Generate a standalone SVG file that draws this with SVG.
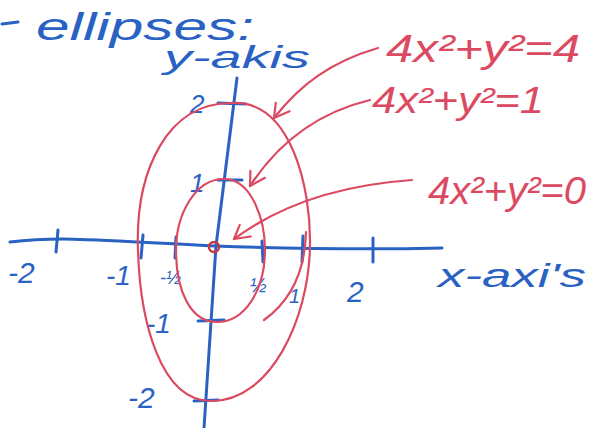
<svg xmlns="http://www.w3.org/2000/svg" width="592" height="428" viewBox="0 0 592 428">
<defs>
<style>
.blue{fill:none;stroke:#2a62c4;stroke-width:3;stroke-linecap:round;stroke-linejoin:round}
.red{fill:none;stroke:#dc4a62;stroke-width:2.2;stroke-linecap:round;stroke-linejoin:round}
.tb{fill:#2a62c4;font-family:"Liberation Sans",Arial,sans-serif;font-style:italic}
.tr{fill:#dc4a62;font-family:"Liberation Sans",Arial,sans-serif;font-style:italic}
</style>
<marker id="vh" viewBox="0 0 20 20" refX="18" refY="10" markerWidth="20" markerHeight="20" markerUnits="userSpaceOnUse" orient="auto">
<path d="M3,2 L18,10 L5,18" fill="none" stroke="#dc4a62" stroke-width="2.2" stroke-linecap="round" stroke-linejoin="round"/>
</marker>
</defs>
<rect width="592" height="428" fill="#ffffff"/>
<g id="title">
<path class="blue" d="M2,24 L18,22"/>
<text class="tb" x="36" y="40" font-size="38" textLength="218" lengthAdjust="spacingAndGlyphs">ellipses:</text>
</g>
<g id="axes">
<path class="blue" d="M10,242 C60,236 100,240 215,246 C330,250 400,249 442,248"/>
<path class="blue" d="M237,78 L216,246 L204,428"/>
<path class="blue" d="M58,230 L56,252 M143,235 L141,258 M176,237 L175,258 M262,241 L263,262 M303,236 L302,262 M373,238 L373,262"/>
<path class="blue" d="M218,103 L246,104 M218,180 L242,180 M198,321 L224,320 M194,401 L218,400"/>
</g>
<g id="y-axis-label"><text class="tb" x="164" y="68" font-size="32" textLength="146" lengthAdjust="spacingAndGlyphs">y-akis</text></g>
<g id="x-axis-label"><text class="tb" x="438" y="287" font-size="34" textLength="148" lengthAdjust="spacingAndGlyphs">x-axi's</text></g>
<g id="tick-labels">
<text class="tb" x="8" y="283" font-size="30">-2</text>
<text class="tb" x="106" y="285" font-size="28">-1</text>
<text class="tb" x="160" y="284" font-size="18">-½</text>
<text class="tb" x="250" y="292" font-size="20">½</text>
<text class="tb" x="347" y="302" font-size="30">2</text>
<text class="tb" x="289" y="303" font-size="20" fill="#333">1</text>
<text class="tb" x="190" y="113" font-size="26">2</text>
<text class="tb" x="190" y="192" font-size="26">1</text>
<text class="tb" x="146" y="333" font-size="28">-1</text>
<text class="tb" x="128" y="408" font-size="30">-2</text>
</g>
<g id="ellipse-4">
<path class="red" d="M232,103 C292,100 311,190 310,245 C309,320 270,401 212,401 C160,402 140,320 138,250 C135,170 168,102 232,103 Z"/>
<path class="red" d="M306,232 C305,270 292,300 264,320"/>
</g>
<g id="ellipse-1">
<path class="red" d="M225,179 C252,180 265,220 265,250 C265,290 245,322 217,322 C190,322 176,290 176,250 C176,215 195,178 225,179 Z"/>
</g>
<g id="ellipse-0">
<circle cx="214" cy="247" r="5" fill="none" stroke="#c8393f" stroke-width="2.5"/>
</g>
<g id="label-4"><text class="tr" x="386" y="62" font-size="38" textLength="194" lengthAdjust="spacingAndGlyphs">4x²+y²=4</text></g>
<g id="label-1"><text class="tr" x="372" y="113" font-size="36" textLength="172" lengthAdjust="spacingAndGlyphs">4x²+y²=1</text></g>
<g id="label-0"><text class="tr" x="428" y="204" font-size="38" textLength="158" lengthAdjust="spacingAndGlyphs">4x²+y²=0</text></g>
<g id="connectors">
<path class="red" d="M378,48 C330,62 300,85 274,118" marker-end="url(#vh)"/>
<path class="red" d="M370,100 C320,112 280,140 250,186" marker-end="url(#vh)"/>
<path class="red" d="M412,180 C340,185 280,205 234,239" marker-end="url(#vh)"/>
</g>
</svg>
